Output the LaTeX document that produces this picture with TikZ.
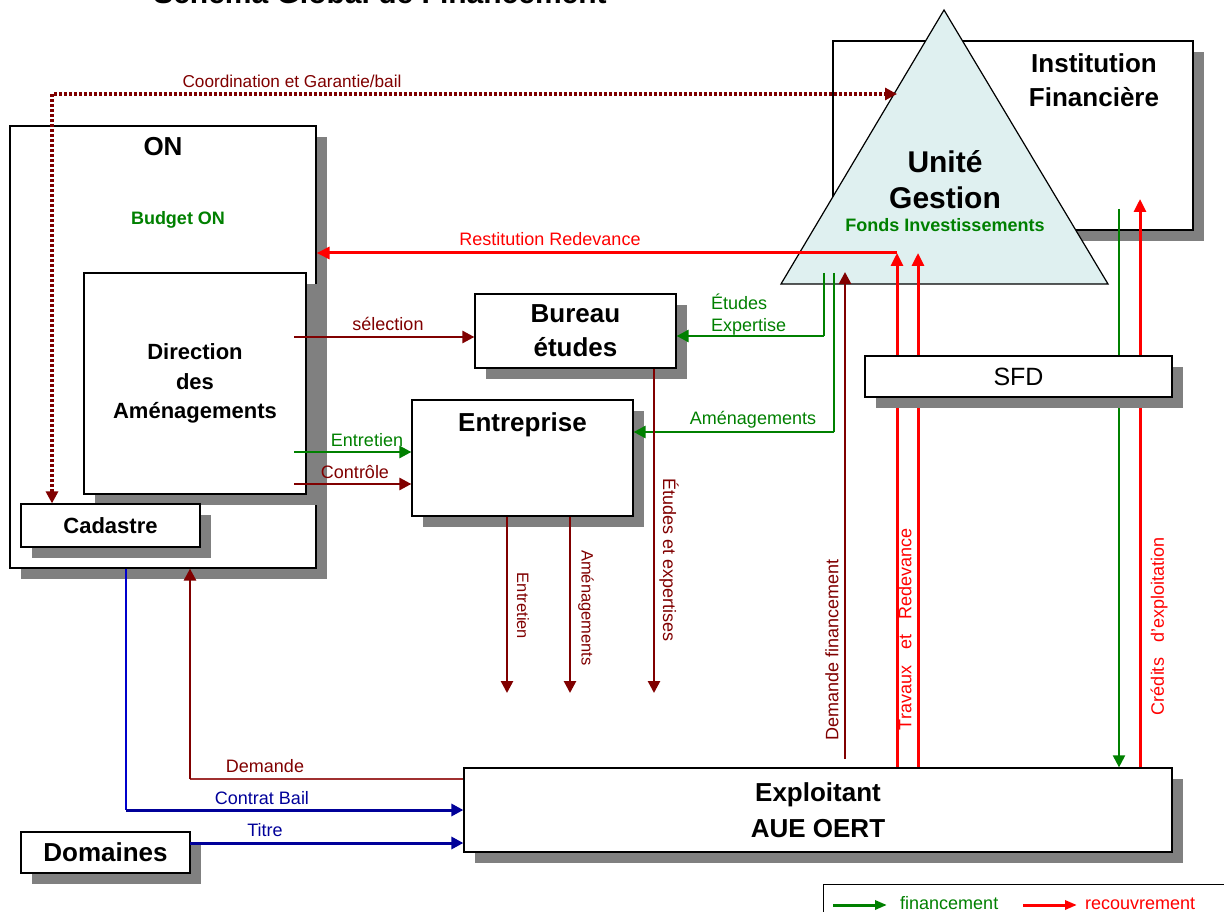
\documentclass[tikz,border=0pt]{standalone}
\usepackage{fontspec}
\setmainfont{Liberation Sans}
\usetikzlibrary{arrows.meta,shadows,calc}
\definecolor{dred}{HTML}{800000}
\definecolor{dredl}{HTML}{A03030}
\definecolor{dgreen}{HTML}{008000}
\definecolor{navy}{HTML}{000099}
\definecolor{lblue}{HTML}{0000CC}
\definecolor{tri}{HTML}{DFF0F0}
\tikzset{
  box/.style={draw=black, line width=1.2pt, fill=white, inner sep=0pt, align=center,
    drop shadow={shadow xshift=11pt, shadow yshift=-11pt, fill=black!50, opacity=1}},
  bt/.style={font=\fontsize{26}{34}\selectfont\bfseries, inner sep=0pt, align=center},
  lab/.style={font=\fontsize{18}{21}\selectfont, inner sep=0pt, anchor=base},
  vlab/.style={font=\fontsize{18}{21}\selectfont, inner sep=0pt},
  vlabs/.style={font=\fontsize{16.5}{20}\selectfont, inner sep=0pt},
  tip/.style={-{Triangle[length=12pt,width=12pt]}},
  rtip/.style={-{Triangle[length=13pt,width=12pt]}},
  ltip/.style={-{Triangle[length=12pt,width=9pt]}},
  drl/.style={draw=dred, line width=2.6pt},
  grl/.style={draw=dgreen, line width=2.6pt},
  rdl/.style={draw=red, line width=3pt},
  nvl/.style={draw=navy, line width=3pt},
  dotl/.style={draw=dred, line width=3.5pt, dash pattern=on 3pt off 2pt}
}
\begin{document}
\begin{tikzpicture}[x=1pt,y=-1pt]
\useasboundingbox (0,0) rectangle (1224,912);
\clip (0,0) rectangle (1224,912);

% title (cut off at the top, as in the reference)
\node[font=\fontsize{30}{36}\selectfont\bfseries, anchor=base, inner sep=0pt] (title) at (380,4) {Schéma Global de Financement};

% ON block
\node[box, minimum width=306pt, minimum height=442pt] (on) at (163,347) {};
\node[bt, anchor=base] (onlbl) at (163,156) {ON};
\node[font=\fontsize{18}{21}\selectfont\bfseries, text=dgreen, inner sep=0pt, anchor=base] (budget) at (178,225) {Budget ON};
\node[box, minimum width=222pt, minimum height=221pt, font=\fontsize{22}{29.5}\selectfont\bfseries] (dir) at (195,383.5) {Direction\\des\\Aménagements};
\node[box, minimum width=179pt, minimum height=43pt, font=\fontsize{22}{26}\selectfont\bfseries] (cad) at (110.5,525.5) {Cadastre};

% Institution financiere
\node[box, minimum width=360pt, minimum height=189pt] (inst) at (1013,135.5) {};
\node[bt] (instlbl) at (1094,80) {Institution\\Financière};

% Triangle Unite Gestion
\coordinate (tA) at (944,10);
\coordinate (tL) at (781,284);
\coordinate (tR) at (1108,284);
\draw[fill=tri, line width=1.2pt, line join=miter] (tA) -- (tL) -- (tR) -- cycle;
\node[font=\fontsize{30}{36}\selectfont\bfseries, inner sep=0pt, align=center] (ug) at (945,180) {Unité\\Gestion};
\node[font=\fontsize{18}{21}\selectfont\bfseries, text=dgreen, inner sep=0pt, anchor=base] (fonds) at (945,232) {Fonds Investissements};

% Bureau etudes, Entreprise
\node[box, minimum width=201pt, minimum height=74pt, bt] (bur) at (575.5,331) {Bureau\\études};
\node[box, minimum width=221pt, minimum height=116pt] (ent) at (522.5,458) {};
\node[bt, anchor=base] (entlbl) at (522.5,431) {Entreprise};

% Exploitant, Domaines
\node[box, minimum width=708pt, minimum height=84pt, font=\fontsize{26}{36}\selectfont\bfseries] (expl) at (818,810) {Exploitant\\AUE OERT};
\node[box, minimum width=169pt, minimum height=41pt, font=\fontsize{26}{30}\selectfont\bfseries] (dom) at (105.5,852.5) {Domaines};

% coordinates for connectors
\coordinate (c1) at (52,94);
\coordinate (tc) at (897,94);
\coordinate (r1) at (897,253);
\coordinate (r2) at (918,253);
\coordinate (g1) at (824,273);
\coordinate (g1b) at (824,336);
\coordinate (g2) at (834,273);
\coordinate (g2b) at (834,432);
\coordinate (df) at (845,272);
\coordinate (dfb) at (845,759);
\coordinate (ig) at (1119,209);
\coordinate (ir) at (1140,199);
\coordinate (sel) at (294,337);
\coordinate (entr) at (294,452);
\coordinate (ctrl) at (294,484);
\coordinate (e1) at (507,693);
\coordinate (e2) at (570,693);
\coordinate (e3) at (654,693);
\coordinate (dm) at (190,779);
\coordinate (cb) at (126,810);
\coordinate (ti) at (190,843);

% Coordination et Garantie/bail
\draw[dotl, {Triangle[length=12pt,width=12pt]}-{Triangle[length=12pt,width=12pt]}] (c1 |- cad.north) -- (c1) -- (tc);
\node[lab, font=\fontsize{17.2}{21}\selectfont, text=dred] (lcoord) at (292,88) {Coordination et Garantie/bail};

% Restitution Redevance
\draw[rdl, rtip] (expl.north -| r1) -- (r1);
\draw[rdl, rtip] (expl.north -| r2) -- (r2);
\draw[rdl, rtip] (r1) -- (on.east |- r1);
\node[lab, text=red] (lrest) at (550,246) {Restitution Redevance};

% green from Unite Gestion
\draw[dgreen, line width=1.5pt] (g1) -- (g1b);
\draw[grl, tip] (g1b) -- (bur.east |- g1b);
\node[lab, anchor=base west, text=dgreen] (let1) at (711,309) {Études};
\node[lab, anchor=base west, text=dgreen] (let2) at (711,331) {Expertise};
\draw[dgreen, line width=1.5pt] (g2) -- (g2b);
\draw[grl, tip] (g2b) -- (ent.east |- g2b);
\node[lab, text=dgreen] (lam) at (753,424) {Aménagements};

% Demande financement
\draw[drl, tip] (dfb) -- (df);
\node[vlab, rotate=90, text=dred] (ldf) at (832,650) {Demande financement};

% Institution financiere lines
\draw[dgreen, line width=2pt, tip] (ig) -- (expl.north -| ig);
\draw[rdl, rtip] (expl.north -| ir) -- (ir);

% SFD box over the vertical lines
\node[box, minimum width=307pt, minimum height=41pt, font=\fontsize{25}{30}\selectfont] (sfd) at (1018.5,376.5) {SFD};

\node[vlab, rotate=90, text=red] (ltr) at (905,629) {\hbox to 202pt{Travaux\hfill et\hfill Redevance}};
\node[vlab, rotate=90, text=red] (lcr) at (1159,626) {\hbox to 178pt{Crédits\hfill d’exploitation}};

% Direction -> Bureau / Entreprise
\draw[drl, tip] (sel) -- (bur.west |- sel);
\node[lab, text=dred] (lsel) at (388,330) {sélection};
\draw[grl, tip] (entr) -- (ent.west |- entr);
\node[lab, text=dgreen] (lentr) at (367,446) {Entretien};
\draw[drl, tip] (ctrl) -- (ent.west |- ctrl);
\node[lab, text=dred] (lctrl) at (355,478) {Contrôle};

% down arrows
\draw[drl, tip] (ent.south -| e1) -- (e1);
\draw[drl, tip] (ent.south -| e2) -- (e2);
\draw[drl, tip] (bur.south -| e3) -- (e3);
\node[vlabs, rotate=-90, text=dred] (lde1) at (523,606) {Entretien};
\node[vlabs, rotate=-90, text=dred] (lde2) at (586,608) {Aménagements};
\node[vlab, rotate=-90, text=dred] (lde3) at (669,560) {Études et expertises};

% Demande
\draw[dredl, line width=1.3pt] (expl.west |- dm) -- (dm);
\draw[drl, tip] (dm) -- (on.south -| dm);
\node[lab, text=dred] (ldm) at (265,772) {Demande};

% Contrat Bail
\draw[lblue, line width=1.2pt] (on.south -| cb) -- (cb);
\draw[nvl, tip] (cb) -- (expl.west |- cb);
\node[lab, text=navy] (lcb) at (262,804) {Contrat Bail};

% Titre
\draw[nvl, tip] (ti) -- (expl.west |- ti);
\node[lab, text=navy] (lti) at (265,836) {Titre};

% legend
\node[draw=black, line width=1pt, minimum width=410pt, minimum height=36pt, inner sep=0pt] (leg) at (1028,902) {};
\coordinate (lg1) at (833,905);
\coordinate (lg2) at (887,905);
\coordinate (lr1) at (1023,905);
\coordinate (lr2) at (1077,905);
\draw[dgreen, line width=3pt, ltip] (lg1) -- (lg2);
\node[lab, anchor=base west, text=dgreen] (lfin) at (900,909) {financement};
\draw[red, line width=3pt, ltip] (lr1) -- (lr2);
\node[lab, anchor=base west, text=red] (lrec) at (1085,909) {recouvrement};
\end{tikzpicture}
\end{document}
